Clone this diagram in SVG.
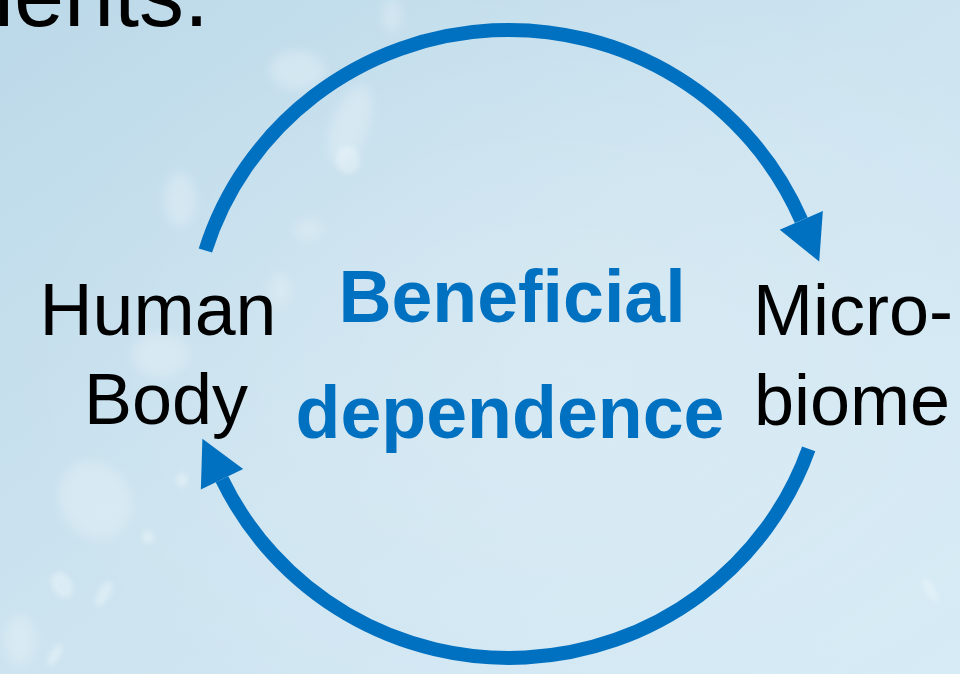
<svg xmlns="http://www.w3.org/2000/svg" width="960" height="674" viewBox="0 0 960 674">
<defs>
<linearGradient id="bg" x1="0" y1="0" x2="1" y2="1">
<stop offset="0" stop-color="#bcd9e9"/>
<stop offset="0.5" stop-color="#cde4f0"/>
<stop offset="1" stop-color="#d6ebf6"/>
</linearGradient>
<radialGradient id="glow" cx="0.6" cy="0.55" r="0.6">
<stop offset="0" stop-color="#ffffff" stop-opacity="0.2"/>
<stop offset="1" stop-color="#ffffff" stop-opacity="0"/>
</radialGradient>
<filter id="soft" x="-50%" y="-50%" width="200%" height="200%">
<feGaussianBlur stdDeviation="6"/>
</filter>
<filter id="soft2" x="-50%" y="-50%" width="200%" height="200%">
<feGaussianBlur stdDeviation="2.5"/>
</filter>
<marker id="head" markerUnits="userSpaceOnUse" markerWidth="60" markerHeight="60" refX="0" refY="25" orient="auto" overflow="visible">
<path d="M0,1.5 L45,25 L0,48.5 z" fill="#0070c0"/>
</marker>
<style>
.lbl{font-family:"Liberation Sans",Arial,sans-serif;font-size:72px;fill:#000000}
.mid{font-family:"Liberation Sans",Arial,sans-serif;font-size:73.5px;font-weight:bold;fill:#0070c0}
.arc{fill:none;stroke:#0070c0;stroke-width:14;marker-end:url(#head)}
.blob{fill:#eef7fb}
</style>
</defs>
<rect x="0" y="0" width="960" height="674" fill="url(#bg)"/>
<rect x="0" y="0" width="960" height="674" fill="url(#glow)"/>
<g opacity="0.35" filter="url(#soft)">
<ellipse class="blob" cx="297" cy="70" rx="28" ry="20"/>
<ellipse class="blob" cx="350" cy="125" rx="18" ry="42" transform="rotate(20 350 125)"/>
<ellipse class="blob" cx="308" cy="230" rx="14" ry="10"/>
<ellipse class="blob" cx="180" cy="200" rx="16" ry="28"/>
<ellipse class="blob" cx="160" cy="355" rx="28" ry="22"/>
<ellipse class="blob" cx="95" cy="500" rx="35" ry="40" transform="rotate(-30 95 500)"/>
<ellipse class="blob" cx="392" cy="15" rx="10" ry="18"/>
<ellipse class="blob" cx="20" cy="640" rx="15" ry="25"/>
<ellipse class="blob" cx="280" cy="290" rx="10" ry="16"/>
</g>
<g opacity="0.45" filter="url(#soft2)">
<ellipse class="blob" cx="182" cy="480" rx="6" ry="7"/>
<ellipse class="blob" cx="148" cy="537" rx="6" ry="7"/>
<ellipse class="blob" cx="62" cy="585" rx="10" ry="14" transform="rotate(-30 62 585)"/>
<ellipse class="blob" cx="104" cy="594" rx="6" ry="14" transform="rotate(30 104 594)"/>
<ellipse class="blob" cx="55" cy="655" rx="5" ry="12" transform="rotate(30 55 655)"/>
<ellipse class="blob" cx="930" cy="590" rx="5" ry="14" transform="rotate(-30 930 590)"/>
<ellipse class="blob" cx="348" cy="160" rx="12" ry="14"/>
</g>
<text class="lbl" x="-6" y="26" style="font-size:90px">ients.</text>
<g id="connectors">
<path id="arc-top" class="arc" d="M205.4,250.5 A318,314 0 0 1 801.3,220.3"/>
<path id="arc-bottom" class="arc" d="M808.7,448.8 A318,314 0 0 1 222,479.2"/>
</g>
<g id="node-human">
<text class="lbl" x="158" y="335" text-anchor="middle" style="font-size:73.5px">Human</text>
<text class="lbl" x="166" y="424" text-anchor="middle">Body</text>
</g>
<g id="node-center">
<text class="mid" x="512" y="322" text-anchor="middle">Beneficial</text>
<text class="mid" x="510" y="438" text-anchor="middle">dependence</text>
</g>
<g id="node-microbiome">
<text class="lbl" x="753" y="335">Micro-</text>
<text class="lbl" x="754" y="425">biome</text>
</g>
</svg>
